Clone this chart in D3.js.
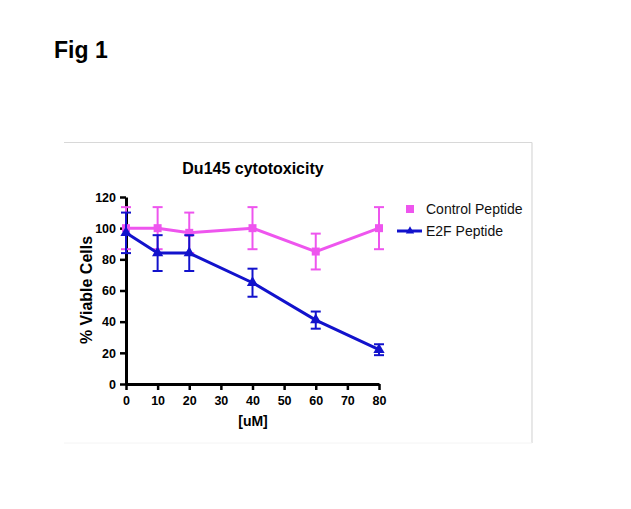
<!DOCTYPE html>
<html><head><meta charset="utf-8">
<script src="https://cdn.jsdelivr.net/npm/d3@7"></script>
<style>body{margin:0;background:#fff;} svg{display:block;} text{font-family:"Liberation Sans",Arial,sans-serif;}</style>
</head><body><svg id="c" width="631" height="509"></svg>
<script>
const concentrations = [0, 10, 20, 40, 60, 80];
const controlMean = [100, 100, 97, 100, 85, 100];
const controlErr = [13.5, 13.5, 13, 13.5, 11.5, 13.5];
const e2fMean = [97, 84, 84, 65, 41, 22];
const e2fErr = [13, 11.5, 11.5, 9, 5.5, 3.5];
const xTicks = [0, 10, 20, 30, 40, 50, 60, 70, 80];
const yTicks = [0, 20, 40, 60, 80, 100, 120];

const svg = d3.select("#c");
const x = d3.scaleLinear().domain([0, 80]).range([126, 379]);
const y = d3.scaleLinear().domain([0, 120]).range([384, 197]);

// frame
svg.append("line").attr("x1",64).attr("x2",532).attr("y1",142.5).attr("y2",142.5).attr("stroke","#d8d8d8").attr("stroke-width",1.2);
svg.append("line").attr("x1",532).attr("x2",532).attr("y1",142.5).attr("y2",443).attr("stroke","#d8d8d8").attr("stroke-width",1.2);
svg.append("line").attr("x1",64).attr("x2",532).attr("y1",443).attr("y2",443).attr("stroke","#f4f4f4").attr("stroke-width",1);

svg.append("text").attr("x",54).attr("y",58).attr("font-size",23).attr("font-weight","bold").text("Fig 1");
svg.append("text").attr("x",253).attr("y",174).attr("text-anchor","middle").attr("font-size",16).attr("font-weight","bold").text("Du145 cytotoxicity");

const xa = svg.append("g").attr("transform","translate(0,384)")
  .call(d3.axisBottom(x).tickValues(xTicks).tickSize(6).tickSizeOuter(0).tickFormat(d3.format("d")));
const ya = svg.append("g").attr("transform","translate(126,0)")
  .call(d3.axisLeft(y).tickValues(yTicks).tickSize(6).tickSizeOuter(0).tickFormat(d3.format("d")));
[xa, ya].forEach(a => {
  a.select(".domain").attr("stroke","#000").attr("stroke-width",3);
  a.selectAll(".tick line").attr("stroke","#000").attr("stroke-width",2.5);
  a.selectAll(".tick text").attr("font-size",12.5).attr("font-weight","bold").attr("fill","#000").attr("font-family","Liberation Sans, Arial, sans-serif");
});
xa.selectAll(".tick text").attr("dy","0.95em");
ya.selectAll(".tick text").attr("dx","-1").attr("dy","0.34em");

svg.append("text").attr("transform","translate(92,290) rotate(-90)").attr("text-anchor","middle").attr("font-size",16).attr("font-weight","bold").text("% Viable Cells");
svg.append("text").attr("x",253).attr("y",426).attr("text-anchor","middle").attr("font-size",14).attr("font-weight","bold").text("[uM]");

const pink = "#EE55EE", blue = "#1212CC";
function series(mean, err, color, shape) {
  const data = concentrations.map((c,i)=>({c, m:mean[i], e:err[i]}));
  const g = svg.append("g");
  g.append("path").datum(data).attr("fill","none").attr("stroke",color).attr("stroke-width",3)
    .attr("d", d3.line().x(d=>x(d.c)).y(d=>y(d.m)));
  data.forEach(d => {
    const cx = x(d.c);
    g.append("line").attr("x1",cx).attr("x2",cx).attr("y1",y(d.m+d.e)).attr("y2",y(d.m-d.e)).attr("stroke",color).attr("stroke-width",2);
    [d.m+d.e, d.m-d.e].forEach(v => g.append("line").attr("x1",cx-5).attr("x2",cx+5).attr("y1",y(v)).attr("y2",y(v)).attr("stroke",color).attr("stroke-width",2));
  });
  g.selectAll("path.m").data(data).enter().append("path").attr("class","m")
    .attr("transform", d=>`translate(${x(d.c)},${y(d.m)})`)
    .attr("d", d3.symbol().type(shape).size(shape===d3.symbolSquare?64:55))
    .attr("fill", color);
}
series(controlMean, controlErr, pink, d3.symbolSquare);
series(e2fMean, e2fErr, blue, d3.symbolTriangle);

// legend
svg.append("rect").attr("x",406).attr("y",205).attr("width",8).attr("height",8).attr("fill",pink);
svg.append("text").attr("x",426).attr("y",214).attr("font-size",14).attr("fill","#111").text("Control Peptide");
svg.append("line").attr("x1",397).attr("x2",422).attr("y1",231).attr("y2",231).attr("stroke",blue).attr("stroke-width",3);
svg.append("path").attr("transform","translate(410,231)").attr("d",d3.symbol().type(d3.symbolTriangle).size(30)).attr("fill",blue);
svg.append("text").attr("x",426).attr("y",236).attr("font-size",14).attr("fill","#111").text("E2F Peptide");
</script></body></html>
